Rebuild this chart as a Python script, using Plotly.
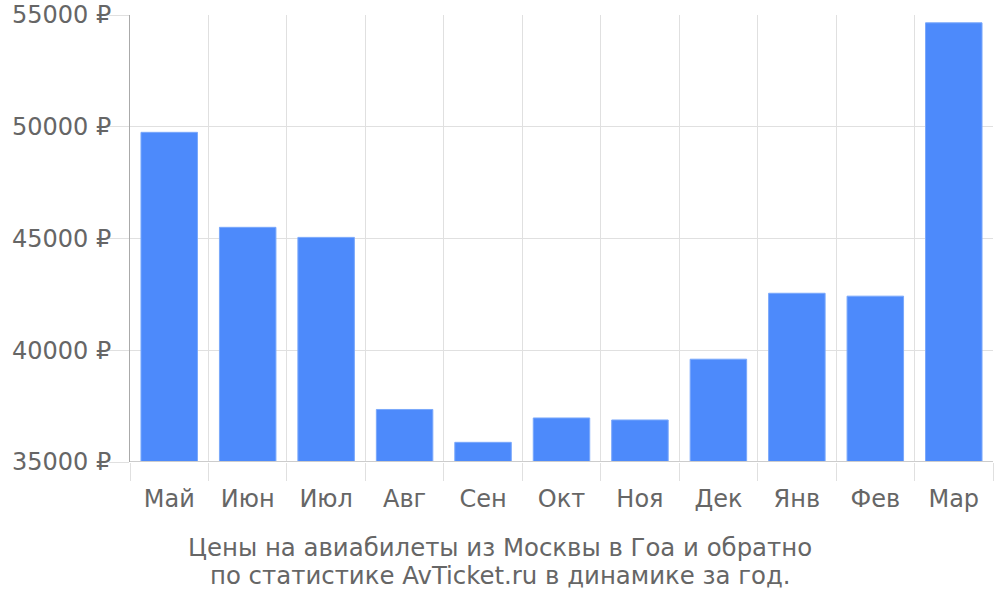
import plotly.graph_objects as go

# Данные графика
months = ["Май", "Июн", "Июл", "Авг", "Сен", "Окт", "Ноя", "Дек", "Янв", "Фев", "Мар"]
prices = [49750, 45500, 45050, 37350, 35880, 36970, 36880, 39600, 42550, 42420, 54650]
y_ticks = [35000, 40000, 45000, 50000, 55000]
y_labels = [f"{v} ₽" for v in y_ticks]

title_lines = [
    "Цены на авиабилеты из Москвы в Гоа и обратно",
    "по статистике AvTicket.ru в динамике за год.",
]

FONT = "DejaVu Sans"
TEXT = "#666666"
GRID = "#e0e0e0"

W, H = 1000, 600

fig = go.Figure()
fig.add_trace(go.Bar(
    x=months,
    y=prices,
    base=0,
    marker=dict(color="#4d8afb", line=dict(color="#7aa8fb", width=1)),
    hoverinfo="x+y",
))

ml, mr, mt, mb = 130, 7, 15, 138
plot_w = W - ml - mr
plot_h = H - mt - mb


def paper_x(px):
    return (px - ml) / plot_w


def paper_y(py):
    return (H - mb - py) / plot_h


annotations = []
for line, yc in zip(title_lines, [547, 575]):
    annotations.append(dict(
        text=line,
        x=paper_x(500), xref="paper", xanchor="center",
        y=paper_y(yc), yref="paper", yanchor="middle",
        showarrow=False,
        font=dict(family=FONT, size=24.4, color=TEXT),
    ))

fig.update_layout(
    width=W,
    height=H,
    margin=dict(l=ml, r=mr, t=mt, b=mb),
    paper_bgcolor="white",
    plot_bgcolor="white",
    bargap=0.28,
    showlegend=False,
    font=dict(family=FONT, size=24, color=TEXT),
    annotations=annotations,
)

fig.update_xaxes(
    type="category",
    tickson="boundaries",
    showgrid=True,
    gridcolor=GRID,
    gridwidth=1,
    ticks="outside",
    ticklen=18,
    tickcolor=GRID,
    ticklabelstandoff=20,
    tickfont=dict(family=FONT, size=24, color=TEXT),
    showline=False,
    zeroline=False,
    automargin=False,
)

fig.update_yaxes(
    range=[35000, 55000],
    tickvals=y_ticks,
    ticktext=y_labels,
    showgrid=True,
    gridcolor=GRID,
    gridwidth=1,
    ticks="outside",
    ticklen=20,
    tickcolor=GRID,
    ticklabelstandoff=-7,
    ticklabeloverflow="allow",
    tickfont=dict(family=FONT, size=24, color=TEXT),
    showline=True,
    linecolor="#aaaaaa",
    linewidth=1,
    zeroline=False,
    automargin=False,
)

# нижняя линия чуть темнее
fig.add_shape(type="line", xref="paper", yref="y", x0=0, x1=1, y0=35000, y1=35000,
              line=dict(color="#cccccc", width=2), layer="above")

# убираем стандартный отступ body, чтобы фигура заняла всё окно
fig.write_html("out.html", config={"displayModeBar": False},
               post_script="document.body.style.margin='0';")
